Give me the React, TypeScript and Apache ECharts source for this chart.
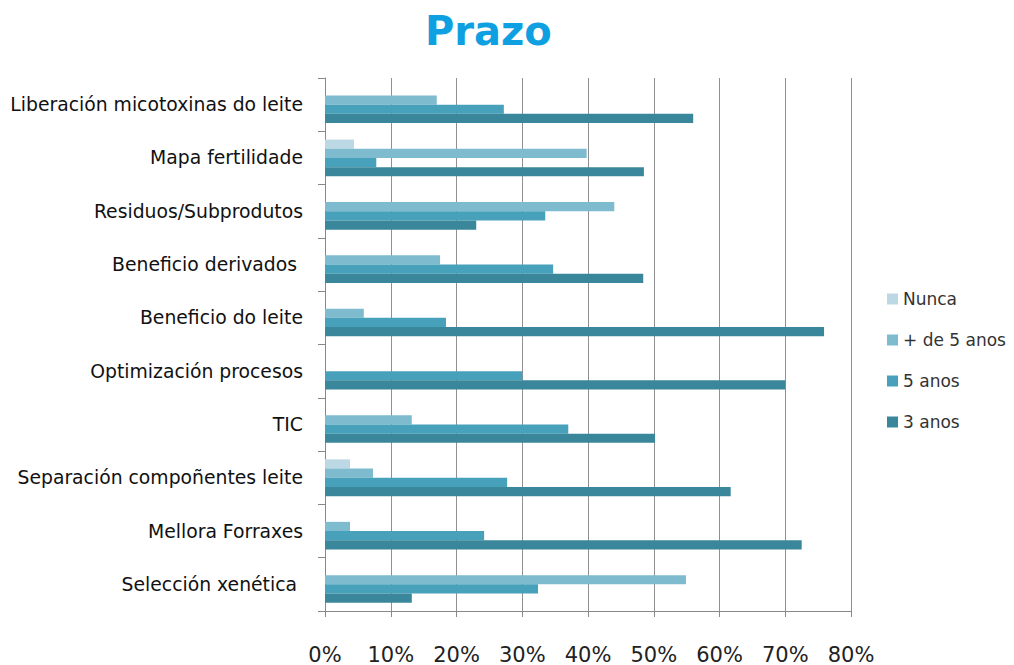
import React, { useEffect, useRef } from "react";
import * as echarts from "echarts";

const categories = [
  "Selección xenética ",
  "Mellora Forraxes",
  "Separación compoñentes leite",
  "TIC",
  "Optimización procesos",
  "Beneficio do leite",
  "Beneficio derivados ",
  "Residuos/Subprodutos",
  "Mapa fertilidade",
  "Liberación micotoxinas do leite",
];

const nunca = [0, 0, 3.8, 0, 0, 0, 0, 0, 4.4, 0];
const maisDe5 = [54.9, 3.8, 7.3, 13.2, 0, 5.9, 17.5, 44.0, 39.8, 17.0];
const cinco = [32.4, 24.2, 27.7, 37.0, 30.0, 18.4, 34.7, 33.5, 7.8, 27.2];
const tres = [13.2, 72.5, 61.7, 50.2, 70.0, 75.9, 48.4, 23.0, 48.5, 56.0];

const seriesNames = ["Nunca", "+ de 5 anos", "5 anos", "3 anos"];
const seriesColors = ["#bcd8e4", "#7fbbce", "#47a1ba", "#3a869a"];
const xTicks = [0, 10, 20, 30, 40, 50, 60, 70, 80];

export default function App() {
  const ref = useRef<HTMLDivElement>(null);
  useEffect(() => {
    document.body.style.margin = "0";
    const chart = echarts.init(ref.current!, undefined, { renderer: "svg" });
    const values = [nunca, maisDe5, cinco, tres];
    chart.setOption({
      animation: false,
      title: {
        text: "Prazo",
        left: 420,
        top: 6,
        textStyle: {
          fontFamily: "DejaVu Sans",
          fontSize: 40,
          fontWeight: "bold",
          color: "#0ea0e0",
        },
      },
      legend: {
        data: seriesNames,
        orient: "vertical",
        left: 882,
        top: 284,
        itemWidth: 11,
        itemHeight: 11,
        itemGap: 21,
        icon: "rect",
        textStyle: {
          fontFamily: "DejaVu Sans",
          fontSize: 17,
          lineHeight: 20,
          color: "#333",
        },
      },
      grid: { left: 325, right: 163, top: 78, bottom: 53, containLabel: false },
      xAxis: {
        type: "value",
        min: xTicks[0],
        max: xTicks[xTicks.length - 1],
        interval: 10,
        axisLine: { show: true, lineStyle: { color: "#888" } },
        axisTick: { show: true, length: 6, lineStyle: { color: "#888" } },
        splitLine: { show: true, lineStyle: { color: "#909090", width: 1 } },
        axisLabel: {
          formatter: "{value}%",
          margin: 33,
          fontFamily: "DejaVu Sans",
          fontSize: 21,
          color: "#222",
        },
      },
      yAxis: {
        type: "category",
        data: categories,
        axisLine: { show: true, lineStyle: { color: "#888" } },
        axisTick: { show: true, length: 7, lineStyle: { color: "#888" } },
        splitLine: { show: false },
        axisLabel: {
          margin: 22,
          fontFamily: "DejaVu Sans",
          fontSize: 18.8,
          color: "#111",
        },
      },
      series: seriesNames.map((name, i) => ({
        name,
        type: "bar",
        data: values[i],
        barGap: "0%",
        barCategoryGap: "31%",
        itemStyle: {
          color: seriesColors[i],
        },
      })),
    });
    return () => chart.dispose();
  }, []);
  return <div ref={ref} style={{ width: 1014, height: 665 }} />;
}
